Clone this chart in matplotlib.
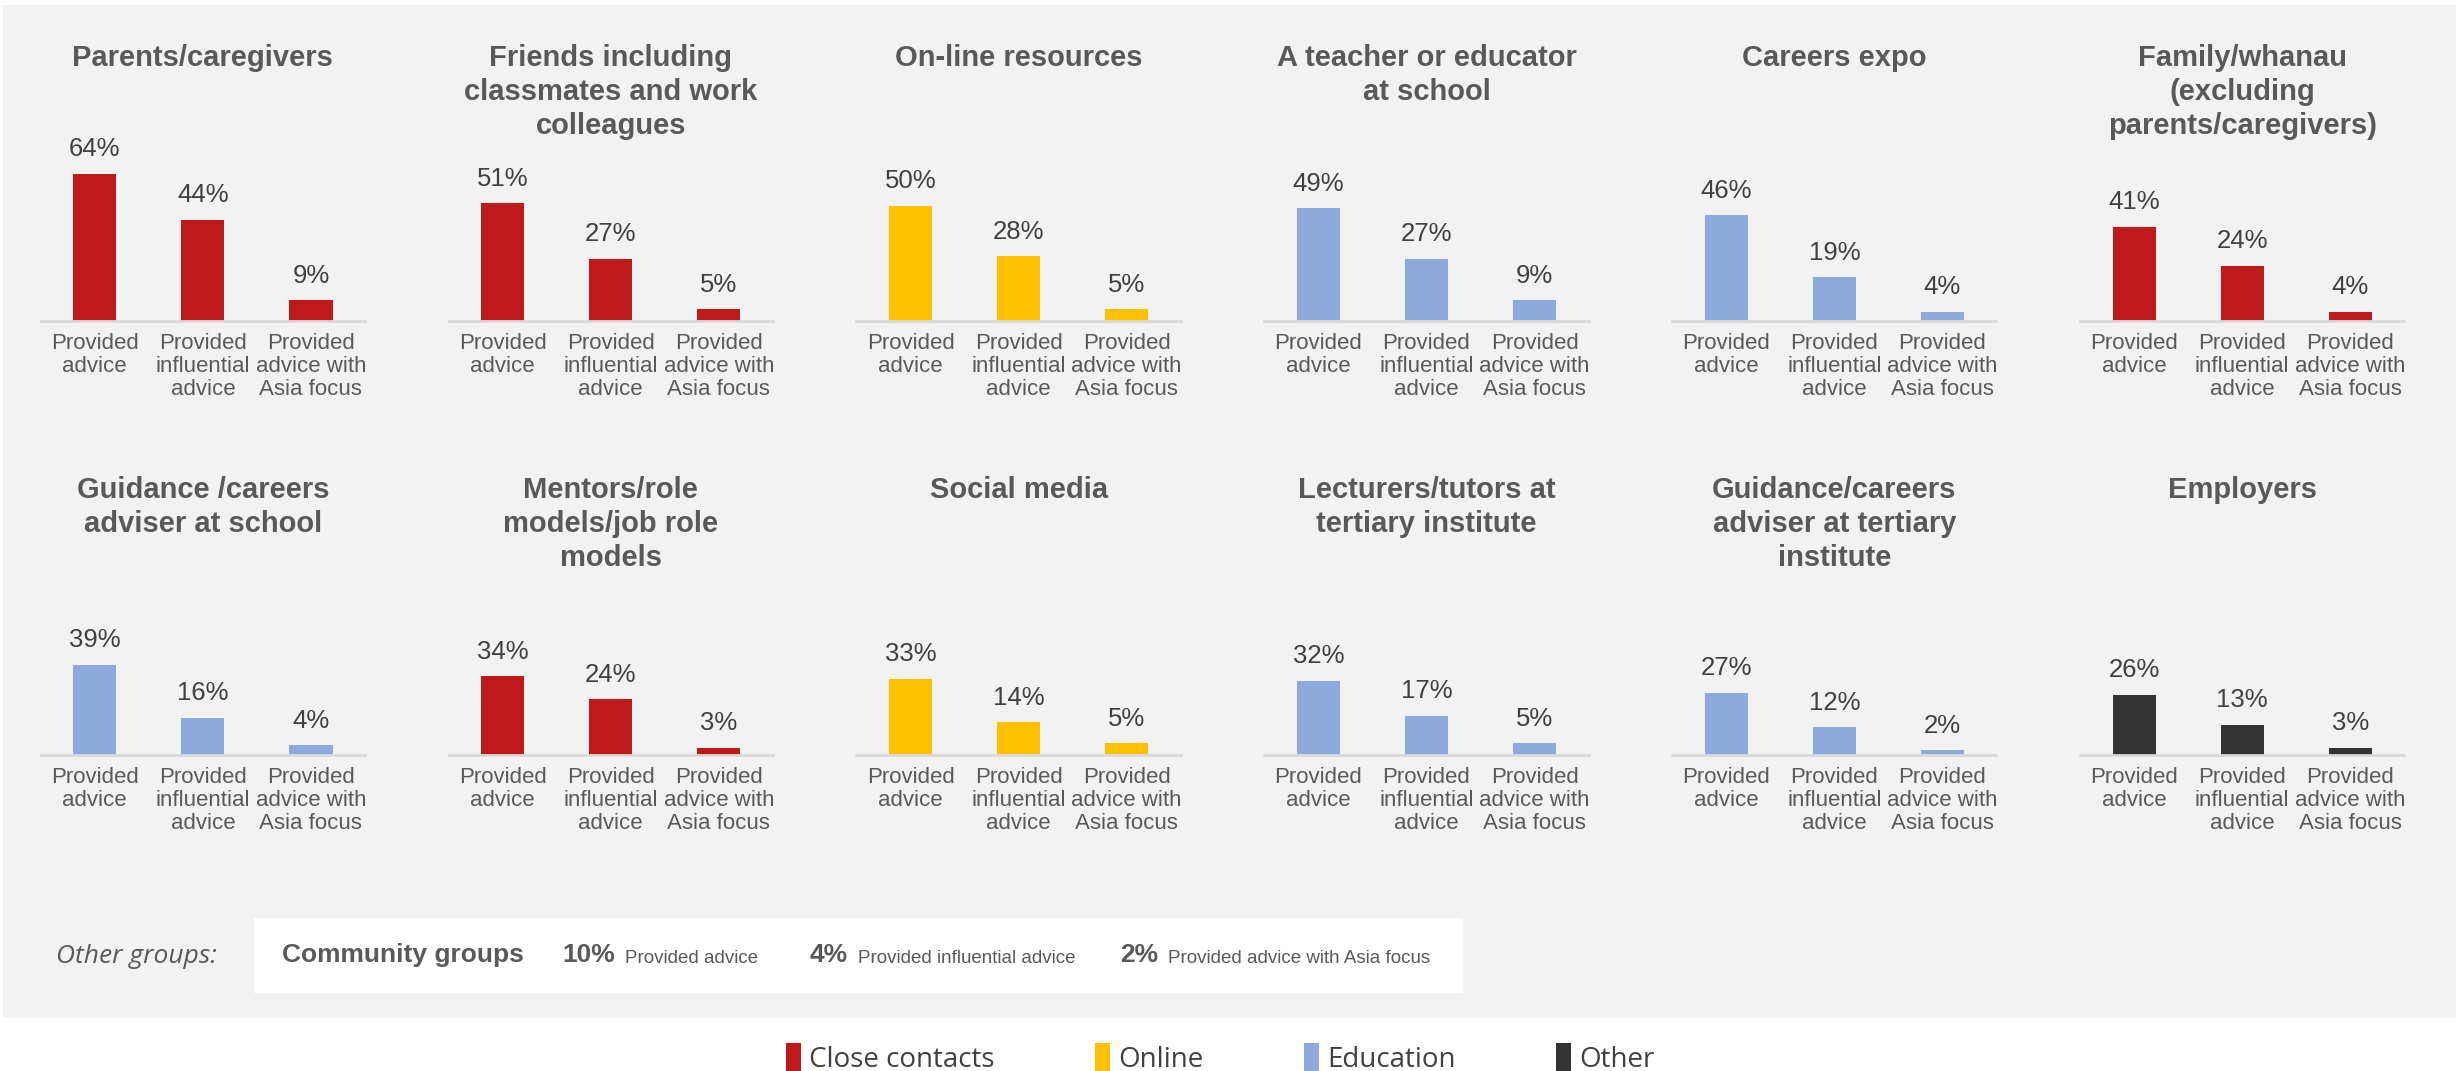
import matplotlib.pyplot as plt
from matplotlib.patches import Rectangle, Patch

# advice sources, one panel each, laid out in two rows of six
sources = [
    "Parents/caregivers",
    "Friends including\nclassmates and work\ncolleagues",
    "On-line resources",
    "A teacher or educator\nat school",
    "Careers expo",
    "Family/whanau\n(excluding\nparents/caregivers)",
    "Guidance /careers\nadviser at school",
    "Mentors/role\nmodels/job role\nmodels",
    "Social media",
    "Lecturers/tutors at\ntertiary institute",
    "Guidance/careers\nadviser at tertiary\ninstitute",
    "Employers",
]
groups = ["Close contacts", "Close contacts", "Online", "Education", "Education", "Close contacts",
          "Education", "Close contacts", "Online", "Education", "Education", "Other"]

measures = ["Provided\nadvice", "Provided\ninfluential\nadvice", "Provided\nadvice with\nAsia focus"]
provided = [64, 51, 50, 49, 46, 41, 39, 34, 33, 32, 27, 26]
influential = [44, 27, 28, 27, 19, 24, 16, 24, 14, 17, 12, 13]
asia_focus = [9, 5, 5, 9, 4, 4, 4, 3, 5, 5, 2, 3]

# community groups shown as text only
community_label = "Community groups"
community_values = [10, 4, 2]
community_measures = ["Provided advice", "Provided influential advice", "Provided advice with Asia focus"]

group_names = ["Close contacts", "Online", "Education", "Other"]
group_colors = {"Close contacts": "#BE1A1A", "Online": "#FFC000",
                "Education": "#8EA9DB", "Other": "#333333"}

TXT = "#595959"
narrow = ["Liberation Sans Narrow", "Liberation Sans", "DejaVu Sans"]
plt.rcParams["font.family"] = narrow

W, H = 1568, 684  # layout grid in reduced pixel units
fig = plt.figure(figsize=(24.56, 10.71), dpi=100)
fig.patch.set_facecolor("white")
fig.add_artist(Rectangle((2 / W, 1 - 650 / H), 1 - 2 / W, (647) / H,
                         transform=fig.transFigure, facecolor="#F2F2F2",
                         edgecolor="none", zorder=0))

ax_w = 207 / W
ax_h = 103 / H
row_bottom = [1 - 205 / H, 1 - 482 / H]
title_top = [1 - 28 / H, 1 - 304 / H]

for i, name in enumerate(sources):
    row, col = divmod(i, 6)
    left = (26 + 260.4 * col) / W
    ax = fig.add_axes([left, row_bottom[row], ax_w, ax_h])
    ax.set_facecolor("none")
    vals = [provided[i], influential[i], asia_focus[i]]
    bars = ax.bar(range(3), vals, width=0.4, color=group_colors[groups[i]])
    for b, v in zip(bars, vals):
        ax.annotate(f"{v}%", (b.get_x() + b.get_width() / 2, v), xytext=(0, 9),
                    textcoords="offset points", ha="center", va="bottom",
                    fontsize=18.5, color="#404040")
    ax.set_xlim(-0.5, 2.5)
    ax.set_ylim(0, 70)
    ax.set_xticks(range(3))
    ax.set_xticklabels(measures, fontsize=16, color=TXT, linespacing=1.12)
    ax.tick_params(axis="x", length=0, pad=9)
    ax.set_yticks([])
    for s in ["top", "right", "left"]:
        ax.spines[s].set_visible(False)
    ax.spines["bottom"].set_color("#D9D9D9")
    ax.spines["bottom"].set_linewidth(2)
    fig.text(left + ax_w / 2, title_top[row], name, ha="center", va="top",
             fontsize=21, fontweight="bold", color=TXT, linespacing=1.28)

# other groups strip
fig.text(36 / W, 1 - 611 / H, "Other groups:", fontsize=19, style="italic",
         color=TXT, va="center", family=["Open Sans", "DejaVu Sans"])
fig.add_artist(Rectangle((162 / W, 1 - 634 / H), (934 - 162) / W, 48 / H,
                         transform=fig.transFigure, facecolor="white",
                         edgecolor="none", zorder=1))
fig.text(180 / W, 1 - 610 / H, community_label, fontsize=19, fontweight="bold",
         color=TXT, va="center")
for v, m, x0 in zip(community_values, community_measures, [359, 517, 715]):
    fig.text(x0 / W, 1 - 610 / H, f"{v}%", fontsize=19, fontweight="bold",
             color=TXT, va="center")
    fig.text((x0 + (40 if v >= 10 else 31)) / W, 1 - 612 / H, m, fontsize=13.5,
             color=TXT, va="center")

handles = [Patch(facecolor=group_colors[g], label=g) for g in group_names]
fig.legend(handles=handles, loc="center", bbox_to_anchor=(779 / W, 1 - 676 / H),
           ncol=4, frameon=False, handlelength=0.55, handleheight=1.2,
           handletextpad=0.3, columnspacing=3.6,
           prop={"family": ["Open Sans", "DejaVu Sans"], "size": 20},
           labelcolor="#404040")

fig.savefig("out.png", dpi=100)
